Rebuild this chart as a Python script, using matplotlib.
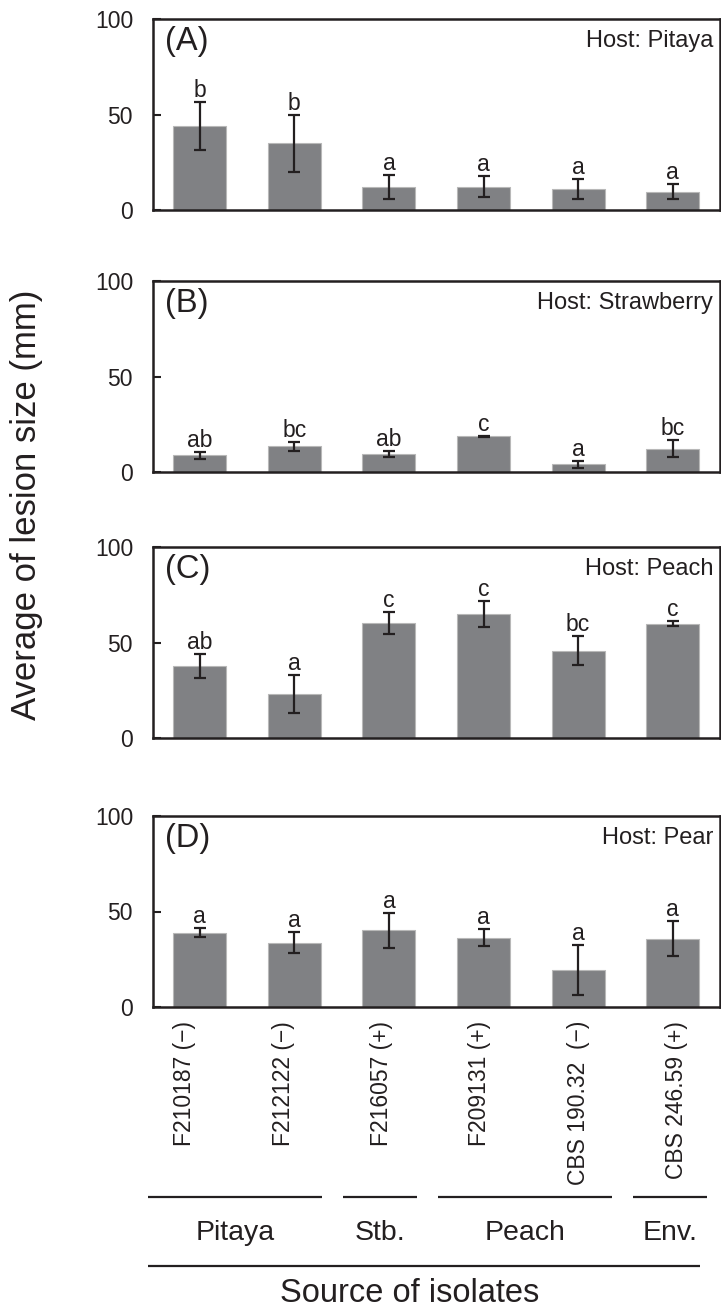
import matplotlib
matplotlib.use("Agg")
import matplotlib.pyplot as plt
import numpy as np
from matplotlib.transforms import blended_transform_factory

plt.rcParams['font.family'] = ['Liberation Sans', 'DejaVu Sans']

isolates = ["F210187 (\u2212)", "F212122 (\u2212)", "F216057 (+)",
            "F209131 (+)", "CBS 190.32  (\u2212)", "CBS 246.59 (+)"]
hosts = ["Pitaya", "Strawberry", "Peach", "Pear"]
panel_tags = ["(A)", "(B)", "(C)", "(D)"]

pitaya_mean = [44, 35, 12, 12.3, 11, 9.6]
pitaya_err = [12.5, 15, 6.3, 5.7, 5.3, 4]
pitaya_sig = ["b", "b", "a", "a", "a", "a"]

strawberry_mean = [8.7, 13.4, 9.3, 18.7, 4.0, 12.3]
strawberry_err = [1.8, 2.5, 1.7, 0.4, 1.8, 4.3]
strawberry_sig = ["ab", "bc", "ab", "c", "a", "bc"]

peach_mean = [37.8, 22.9, 60.3, 64.9, 45.6, 59.9]
peach_err = [6.2, 10, 5.6, 6.6, 7.6, 1.2]
peach_sig = ["ab", "a", "c", "c", "bc", "c"]

pear_mean = [39.0, 33.7, 40.1, 36.2, 19.5, 35.8]
pear_err = [2.4, 5.4, 9.0, 4.5, 13.0, 9.1]
pear_sig = ["a", "a", "a", "a", "a", "a"]

groups = ["Pitaya", "Stb.", "Peach", "Env."]
group_start = [-0.55, 1.51, 2.52, 4.58]
group_end = [1.29, 2.30, 4.36, 5.36]

means = [pitaya_mean, strawberry_mean, peach_mean, pear_mean]
errs = [pitaya_err, strawberry_err, peach_err, pear_err]
sigs = [pitaya_sig, strawberry_sig, peach_sig, pear_sig]

W, H = 721, 1306
fig = plt.figure(figsize=(W / 100, H / 100), dpi=100)

ink = '#231f20'
bar_color = '#808184'
tops_px = [19, 281, 547, 816]
ax_h_px = 191
left_px, right_px = 152.5, 720

x = np.arange(len(isolates))
axes = []
for k in range(4):
    ax = fig.add_axes([left_px / W, 1 - (tops_px[k] + ax_h_px) / H,
                       (right_px - left_px) / W, ax_h_px / H])
    ax.bar(x, means[k], width=0.56, color=bar_color, edgecolor='#b8b8b8',
           linewidth=0.8, zorder=2)
    ax.errorbar(x, means[k], yerr=errs[k], fmt='none', ecolor=ink,
                elinewidth=1.6, capsize=4.5, capthick=1.6, zorder=3)
    for i in range(len(x)):
        ax.text(x[i], means[k][i] + errs[k][i] + 2.6, sigs[k][i],
                ha='center', va='baseline', fontsize=16.5, color=ink)
    ax.set_xlim(-0.5, 5.5)
    ax.set_ylim(0, 100)
    ax.set_yticks([0, 50, 100])
    ax.tick_params(axis='y', direction='in', length=6, width=1.5,
                   labelsize=16.5, colors=ink, pad=14)
    for s in ax.spines.values():
        s.set_linewidth(1.8)
        s.set_color(ink)
    ax.text(0.022, 0.88, panel_tags[k], transform=ax.transAxes,
            fontsize=23.5, ha='left', va='center', color=ink)
    ax.text(0.988, 0.885, "Host: " + hosts[k], transform=ax.transAxes,
            fontsize=17, ha='right', va='center', color=ink)
    if k < 3:
        ax.set_xticks([])
    axes.append(ax)

axD = axes[3]
axD.set_xticks(x * 1.04 - 0.16)
axD.set_xticklabels(isolates, rotation=90, va='top', ha='center',
                    fontsize=16.5, color=ink)
axD.tick_params(axis='x', length=0, pad=10)

tr = blended_transform_factory(axD.transData, fig.transFigure)
line_y = 1 - 1197 / H
label_y = 1 - 1233 / H
for g, s, e in zip(groups, group_start, group_end):
    axD.plot([s, e], [line_y, line_y], transform=tr, color=ink, lw=1.6,
             clip_on=False, solid_capstyle='butt')
    axD.text((s + e) / 2, label_y, g, transform=tr, ha='center', va='center',
             fontsize=20.5, color=ink)

bottom_y = 1 - 1266 / H
axD.plot([group_start[0], 5.29], [bottom_y, bottom_y], transform=tr,
         color=ink, lw=1.6, clip_on=False, solid_capstyle='butt')
axD.text(2.22, 1 - 1293 / H, "Source of isolates", transform=tr,
         ha='center', va='center', fontsize=23.5, color=ink)

fig.text(27 / W, 1 - 505 / H, "Average of lesion size (mm)", rotation=90,
         ha='center', va='center', fontsize=25, color=ink)

fig.savefig("out.png", dpi=100)
